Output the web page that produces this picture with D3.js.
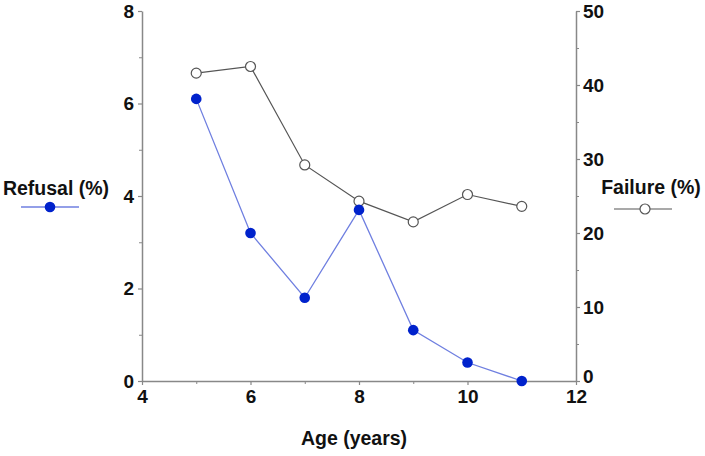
<!DOCTYPE html>
<html><head><meta charset="utf-8">
<script src="https://cdn.jsdelivr.net/npm/d3@7"></script>
<style>body{margin:0;background:#fff}svg{display:block}text{font-family:"Liberation Sans",Arial,sans-serif;font-weight:bold;fill:#111}</style>
</head><body>
<script>
const ages = [5, 6, 7, 8, 9, 10, 11];
const refusal = [6.1, 3.2, 1.8, 3.7, 1.1, 0.4, 0.0];
const failure = [41.6, 42.5, 29.2, 24.3, 21.5, 25.2, 23.6];
const xTicks = [4, 6, 8, 10, 12];
const leftTicks = [0, 2, 4, 6, 8];
const rightTicks = [0, 10, 20, 30, 40, 50];

const W = 705, H = 456;
const svg = d3.select("body").append("svg").attr("width", W).attr("height", H);
const x = d3.scaleLinear().domain([4, 12]).range([142, 576]);
const yL = d3.scaleLinear().domain([0, 8]).range([381, 11]);
const yR = d3.scaleLinear().domain([0, 50]).range([381, 11]);
const axisColor = "#888";

function style(g){
  g.select(".domain").attr("stroke", axisColor).attr("stroke-width", 1.5);
  g.selectAll(".tick line").attr("stroke", axisColor).attr("stroke-width", 1.2);
  g.selectAll(".tick text").attr("font-size", 19).attr("font-weight", "bold").attr("fill", "#111");
}
const gx = svg.append("g").attr("transform", `translate(0,${yL(0)})`)
  .call(d3.axisBottom(x).tickValues(xTicks).tickSize(4).tickSizeOuter(0).tickPadding(5).tickFormat(d3.format("d")));
style(gx);
svg.append("g").attr("transform", `translate(0,${yL(0)})`)
  .call(d3.axisBottom(x).tickValues([5,7,9,11]).tickSize(3).tickFormat(""))
  .call(g => { g.select(".domain").remove(); g.selectAll("line").attr("stroke", axisColor); });

const gl = svg.append("g").attr("transform", `translate(${x(4)},0)`)
  .call(d3.axisLeft(yL).tickValues(leftTicks).tickSize(4).tickSizeOuter(0).tickPadding(4).tickFormat(d3.format("d")));
style(gl);
svg.append("g").attr("transform", `translate(${x(4)},0)`)
  .call(d3.axisLeft(yL).tickValues([1,3,5,7]).tickSize(3).tickFormat(""))
  .call(g => { g.select(".domain").remove(); g.selectAll("line").attr("stroke", axisColor); });

const gr = svg.append("g").attr("transform", `translate(${x(12)},0)`)
  .call(d3.axisRight(yR).tickValues(rightTicks).tickSize(4).tickSizeOuter(0).tickPadding(3).tickFormat(d3.format("d")));
style(gr);
gr.selectAll(".tick text").filter(d => d === 0).attr("dy", "0.1em");
svg.append("g").attr("transform", `translate(${x(12)},0)`)
  .call(d3.axisRight(yR).tickValues([5,15,25,35,45]).tickSize(3).tickFormat(""))
  .call(g => { g.select(".domain").remove(); g.selectAll("line").attr("stroke", axisColor); });

// failure series
const lineF = d3.line().x((d,i) => x(ages[i])).y(d => yR(d));
svg.append("path").datum(failure).attr("d", lineF).attr("fill", "none").attr("stroke", "#555").attr("stroke-width", 1.2);
svg.selectAll(".fpt").data(failure).enter().append("circle")
  .attr("cx", (d,i) => x(ages[i])).attr("cy", d => yR(d)).attr("r", 5)
  .attr("fill", "#fff").attr("stroke", "#555").attr("stroke-width", 1.2);

// refusal series
const lineR = d3.line().x((d,i) => x(ages[i])).y(d => yL(d));
svg.append("path").datum(refusal).attr("d", lineR).attr("fill", "none").attr("stroke", "#6f7fe0").attr("stroke-width", 1.3);
svg.selectAll(".rpt").data(refusal).enter().append("circle")
  .attr("cx", (d,i) => x(ages[i])).attr("cy", d => yL(d)).attr("r", 5.3)
  .attr("fill", "#0022cc");

// axis title
svg.append("text").attr("x", 354).attr("y", 445).attr("text-anchor", "middle").attr("font-size", 19.5).text("Age (years)");

// legends
svg.append("text").attr("x", 56).attr("y", 195).attr("text-anchor", "middle").attr("font-size", 19.5).text("Refusal (%)");
svg.append("line").attr("x1", 21).attr("x2", 79).attr("y1", 207).attr("y2", 207).attr("stroke", "#6f7fe0").attr("stroke-width", 1.3);
svg.append("circle").attr("cx", 50).attr("cy", 207).attr("r", 5.3).attr("fill", "#0022cc");

svg.append("text").attr("x", 651).attr("y", 194).attr("text-anchor", "middle").attr("font-size", 19.5).text("Failure (%)");
svg.append("line").attr("x1", 614).attr("x2", 672).attr("y1", 209).attr("y2", 209).attr("stroke", "#555").attr("stroke-width", 1.2);
svg.append("circle").attr("cx", 645).attr("cy", 209).attr("r", 5).attr("fill", "#fff").attr("stroke", "#555").attr("stroke-width", 1.2);
</script>
</body></html>
